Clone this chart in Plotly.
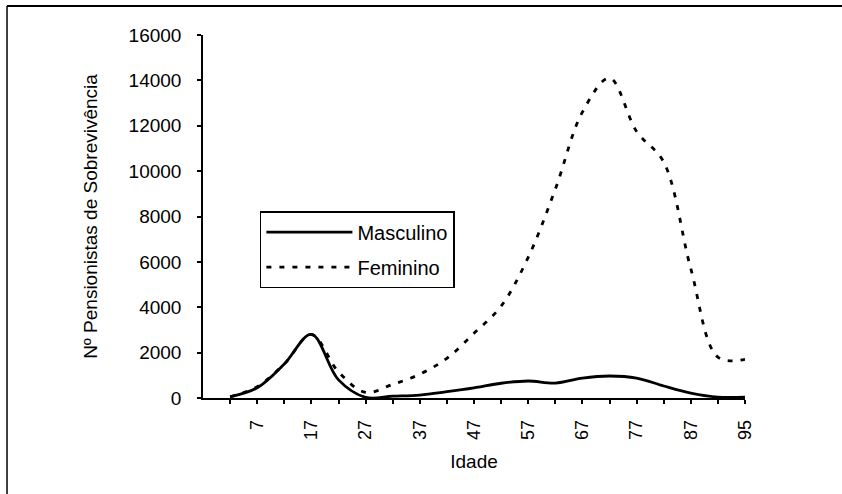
import plotly.graph_objects as go

# ---- data ----
ages = [2, 7, 12, 17, 22, 27, 32, 37, 42, 47, 52, 57, 62, 67, 72, 77, 82, 87, 92, 95]
masculino = [50, 450, 1500, 2800, 800, 30, 80, 130, 280, 450, 650, 750, 660, 880, 970, 880, 530, 220, 40, 40]
feminino = [50, 500, 1500, 2800, 1150, 250, 600, 1050, 1750, 2850, 4050, 6200, 9200, 12600, 14100, 11750, 10400, 5700, 1800, 1700]
labelled_ages = [7, 17, 27, 37, 47, 57, 67, 77, 87, 95]
y_ticks = [0, 2000, 4000, 6000, 8000, 10000, 12000, 14000, 16000]

cats = [str(a) for a in ages]
ticktext = [str(a) if a in labelled_ages else "" for a in ages]

FONT = "Liberation Sans, Arial, sans-serif"

fig = go.Figure()
fig.add_trace(go.Scatter(
    x=cats, y=masculino, name="Masculino", mode="lines",
    line=dict(color="black", width=2.8, shape="spline", smoothing=1.0),
    legendgroup="m",
))
fig.add_trace(go.Scatter(
    x=cats, y=feminino, name="Feminino", mode="lines",
    line=dict(color="black", width=2.8, dash="5px,8px", shape="spline", smoothing=1.0),
    legendgroup="f",
))

fig.update_layout(
    width=842, height=494,
    margin=dict(l=203, r=97, t=35, b=96),
    paper_bgcolor="white", plot_bgcolor="white",
    font=dict(family=FONT, color="black", size=18),
    showlegend=True,
    legend=dict(
        x=0.105, y=0.515, xanchor="left", yanchor="top",
        bordercolor="black", borderwidth=1.5, bgcolor="white",
        font=dict(size=20, family=FONT), itemwidth=86,
        traceorder="grouped", tracegroupgap=6,
    ),
    xaxis=dict(
        type="category", categoryorder="array", categoryarray=cats,
        range=[-1, len(cats) - 1],
        tickmode="array", tickvals=cats, ticktext=ticktext,
        tickangle=-90, tickfont=dict(size=18, family=FONT),
        ticks="outside", ticklen=4, tickwidth=1.5, tickcolor="black",
        ticklabelstandoff=9,
        showline=True, linecolor="black", linewidth=1.5,
        showgrid=False, zeroline=False,
        title=dict(text="Idade", font=dict(size=19, family=FONT), standoff=16),
    ),
    yaxis=dict(
        range=[0, 16000], tickmode="array", tickvals=y_ticks,
        ticktext=[str(v) for v in y_ticks],
        ticks="outside", ticklen=4, tickwidth=1.5, tickcolor="black",
        ticklabelstandoff=12, tickfont=dict(size=19, family=FONT),
        showline=True, linecolor="black", linewidth=1.5,
        showgrid=False, zeroline=False,
        title=dict(text="Nº Pensionistas de Sobrevivência", font=dict(size=19, family=FONT), standoff=26),
    ),
    shapes=[
        dict(type="line", xref="paper", yref="paper", x0=-0.3616, x1=1.18, y0=1.0799, y1=1.0799,
             line=dict(color="black", width=2)),
        dict(type="line", xref="paper", yref="paper", x0=-0.3616, x1=-0.3616, y0=1.0799, y1=-0.27,
             line=dict(color="black", width=1.5)),
    ],
)

fig.write_html("out.html")
